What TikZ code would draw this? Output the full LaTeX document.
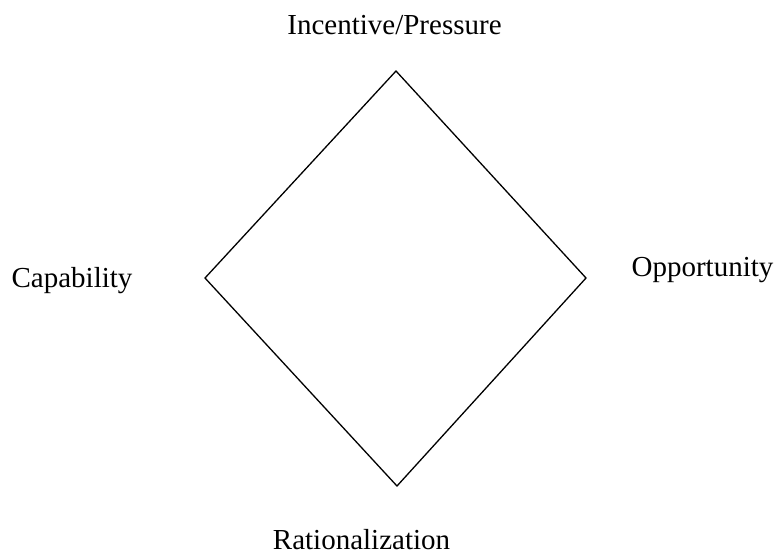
\documentclass[tikz,border=0pt]{standalone}
\usepackage{fontspec}
\setmainfont{Liberation Serif}
\begin{document}
\begin{tikzpicture}[x=1pt,y=1pt,
  lbl/.style={anchor=base,inner sep=0pt,font=\fontsize{29}{34}\selectfont},
  edge/.style={draw=black,line width=1.3pt,line join=miter}]
\useasboundingbox (0,0) rectangle (779,-555);
\coordinate (T) at (396,-71);
\coordinate (R) at (586,-278);
\coordinate (B) at (397,-486);
\coordinate (L) at (205,-278);
\draw[edge] (T) -- (R) -- (B) -- (L) -- cycle;
\node[lbl] (inc) at (394.5,-34) {Incentive/Pressure};
\node[lbl] (cap) at (72,-287) {Capability};
\node[lbl] (opp) at (702.5,-276) {Opportunity};
\node[lbl] (rat) at (361.5,-549) {Rationalization};
\end{tikzpicture}
\end{document}
